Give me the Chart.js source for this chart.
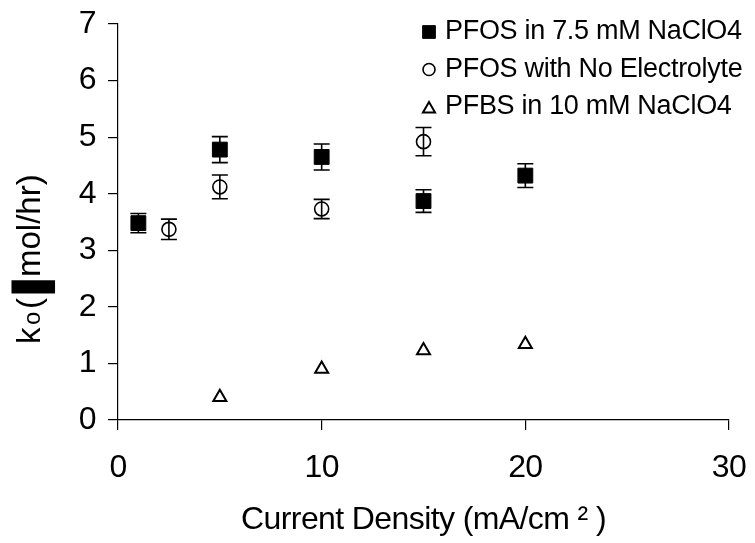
<!DOCTYPE html>
<html lang="en">
<head>
<meta charset="UTF-8">
<title>k0 vs Current Density</title>
<script src="https://cdn.jsdelivr.net/npm/chart.js"></script>
<style>
    html, body { margin: 0; padding: 0; background: #fff; }
</style>
</head>
<body>
<canvas id="kChart" width="755" height="543"></canvas>

<script>
    // series names (legend order)
    const seriesNames = ["PFOS in 7.5 mM NaClO4", "PFOS with No Electrolyte", "PFBS in 10 mM NaClO4"];

    // PFOS in 7.5 mM NaClO4
    const pfosNaclX = [1, 5, 10, 15, 20];
    const pfosNaclY = [3.48, 4.78, 4.65, 3.87, 4.32];
    const pfosNaclErr = [0.17, 0.23, 0.23, 0.20, 0.21];

    // PFOS with no electrolyte
    const pfosNoneX = [2.5, 5, 10, 15];
    const pfosNoneY = [3.37, 4.12, 3.73, 4.92];
    const pfosNoneErr = [0.18, 0.21, 0.17, 0.25];

    // PFBS in 10 mM NaClO4 (no error bars)
    const pfbsX = [5, 10, 15, 20];
    const pfbsY = [0.40, 0.90, 1.23, 1.34];

    const xTicks = [0, 10, 20, 30];
    const yTicks = [0, 1, 2, 3, 4, 5, 6, 7];

    const xTitle = "Current Density (mA/cm \u00B2 )";
    // the mu did not render in the original, it shows as a solid block
    const yTitleParts = ["k", "o", "(", "\u2588", "mol/hr)"];

    const toPoints = (xs, ys) => xs.map((x, i) => ({ x: x, y: ys[i] }));

    const FONT = "'Liberation Sans', Arial, sans-serif";

    // tighter letters, like the original export
    const tightText = {
        id: 'tightText',
        beforeDraw(chart) { chart.ctx.letterSpacing = '-0.6px'; },
        afterDraw(chart) { chart.ctx.letterSpacing = '0px'; }
    };

    // vertical error bars with caps, drawn under the markers
    const errorBars = {
        id: 'errorBars',
        beforeDatasetsDraw(chart) {
            const ctx = chart.ctx;
            const xs = chart.scales.x, ys = chart.scales.y;
            ctx.save();
            ctx.strokeStyle = '#000';
            ctx.lineWidth = 1.6;
            chart.data.datasets.forEach(ds => {
                if (!ds.err) return;
                ds.data.forEach((p, i) => {
                    const px = xs.getPixelForValue(p.x);
                    const top = ys.getPixelForValue(p.y + ds.err[i]);
                    const bot = ys.getPixelForValue(p.y - ds.err[i]);
                    ctx.beginPath();
                    ctx.moveTo(px, top); ctx.lineTo(px, bot);
                    ctx.moveTo(px - 8, top); ctx.lineTo(px + 8, top);
                    ctx.moveTo(px - 8, bot); ctx.lineTo(px + 8, bot);
                    ctx.stroke();
                });
            });
            ctx.restore();
        }
    };

    // legend inside the top right of the plot + rotated y title
    const extras = {
        id: 'extras',
        afterDraw(chart) {
            const ctx = chart.ctx;
            ctx.save();
            ctx.letterSpacing = '-0.3px';
            ctx.font = '27px ' + FONT;
            ctx.textBaseline = 'middle';
            chart.data.datasets.forEach((ds, i) => {
                const y = 32 + i * 37.5;
                ctx.fillStyle = ds.backgroundColor;
                ctx.strokeStyle = '#000';
                ctx.lineWidth = ds.borderWidth;
                Chart.helpers.drawPoint(ctx, {
                    pointStyle: ds.pointStyle,
                    radius: ds.legendRadius,
                    borderWidth: ds.borderWidth
                }, 429, ds.pointStyle === 'triangle' ? y + 2 : y);
                ctx.fillStyle = '#000';
                ctx.fillText(seriesNames[i], 445, y);
            });
            ctx.restore();

            // y title, drawn piece by piece so the block can be sized
            ctx.save();
            ctx.fillStyle = '#000';
            ctx.letterSpacing = '0px';
            ctx.translate(40, 342);
            ctx.rotate(-Math.PI / 2);
            ctx.textBaseline = 'alphabetic';
            ctx.textAlign = 'left';
            const at = [-2, 17, 33, 48, 65];
            const sizes = [33, 24, 33, 0, 33];
            yTitleParts.forEach((t, i) => {
                if (sizes[i]) {
                    ctx.font = sizes[i] + 'px ' + FONT;
                    ctx.fillText(t, at[i], 0);
                    return;
                }
                // stretch the block glyph to the size it has in the original
                ctx.font = '40px "DejaVu Sans"';
                const m = ctx.measureText(t);
                const bw = m.actualBoundingBoxLeft + m.actualBoundingBoxRight;
                const bh = m.actualBoundingBoxAscent + m.actualBoundingBoxDescent;
                ctx.save();
                ctx.translate(at[i], -29);
                ctx.scale(14 / bw, 44 / bh);
                ctx.fillText(t, m.actualBoundingBoxLeft, m.actualBoundingBoxAscent);
                ctx.restore();
            });
            ctx.restore();
        }
    };

    new Chart(document.getElementById('kChart'), {
        type: 'scatter',
        data: {
            datasets: [
                {
                    label: seriesNames[0],
                    data: toPoints(pfosNaclX, pfosNaclY),
                    err: pfosNaclErr,
                    pointStyle: 'rect',
                    pointRadius: 10.5,
                    legendRadius: 9,
                    backgroundColor: '#000',
                    borderColor: '#000',
                    borderWidth: 1
                },
                {
                    label: seriesNames[1],
                    data: toPoints(pfosNoneX, pfosNoneY),
                    err: pfosNoneErr,
                    pointStyle: 'circle',
                    pointRadius: 7,
                    legendRadius: 6,
                    backgroundColor: 'rgba(0,0,0,0)',
                    borderColor: '#000',
                    borderWidth: 1.6
                },
                {
                    label: seriesNames[2],
                    data: toPoints(pfbsX, pfbsY),
                    pointStyle: 'triangle',
                    pointRadius: 7.5,
                    legendRadius: 7,
                    backgroundColor: 'rgba(0,0,0,0)',
                    borderColor: '#000',
                    borderWidth: 2
                }
            ]
        },
        options: {
            responsive: false,
            animation: false,
            layout: { padding: { top: 24, right: 26, left: 0, bottom: 0 } },
            plugins: {
                legend: { display: false },
                tooltip: { enabled: false }
            },
            scales: {
                x: {
                    type: 'linear',
                    min: 0,
                    max: 30,
                    afterBuildTicks: s => { s.ticks = xTicks.map(v => ({ value: v })); },
                    afterFit: s => { s.height = 123; s.paddingLeft = 0; s.paddingRight = 0; },
                    border: { color: '#000', width: 1.2 },
                    grid: { drawOnChartArea: false, tickLength: 10, color: '#000', lineWidth: 1.2 },
                    ticks: { color: '#000', font: { family: FONT, size: 32 }, padding: 19, maxRotation: 0 },
                    title: {
                        display: true,
                        text: xTitle,
                        color: '#000',
                        font: { family: FONT, size: 32 },
                        padding: { top: 0, bottom: 4 }
                    }
                },
                y: {
                    type: 'linear',
                    min: 0,
                    max: 7,
                    afterBuildTicks: s => { s.ticks = yTicks.map(v => ({ value: v })); },
                    afterFit: s => { s.width = 118; s.paddingTop = 0; s.paddingBottom = 0; },
                    border: { color: '#000', width: 1.2 },
                    grid: { drawOnChartArea: false, tickLength: 10, color: '#000', lineWidth: 1.2 },
                    ticks: { color: '#000', font: { family: FONT, size: 32 }, padding: 12 }
                }
            }
        },
        plugins: [tightText, errorBars, extras]
    });
</script>
</body>
</html>
